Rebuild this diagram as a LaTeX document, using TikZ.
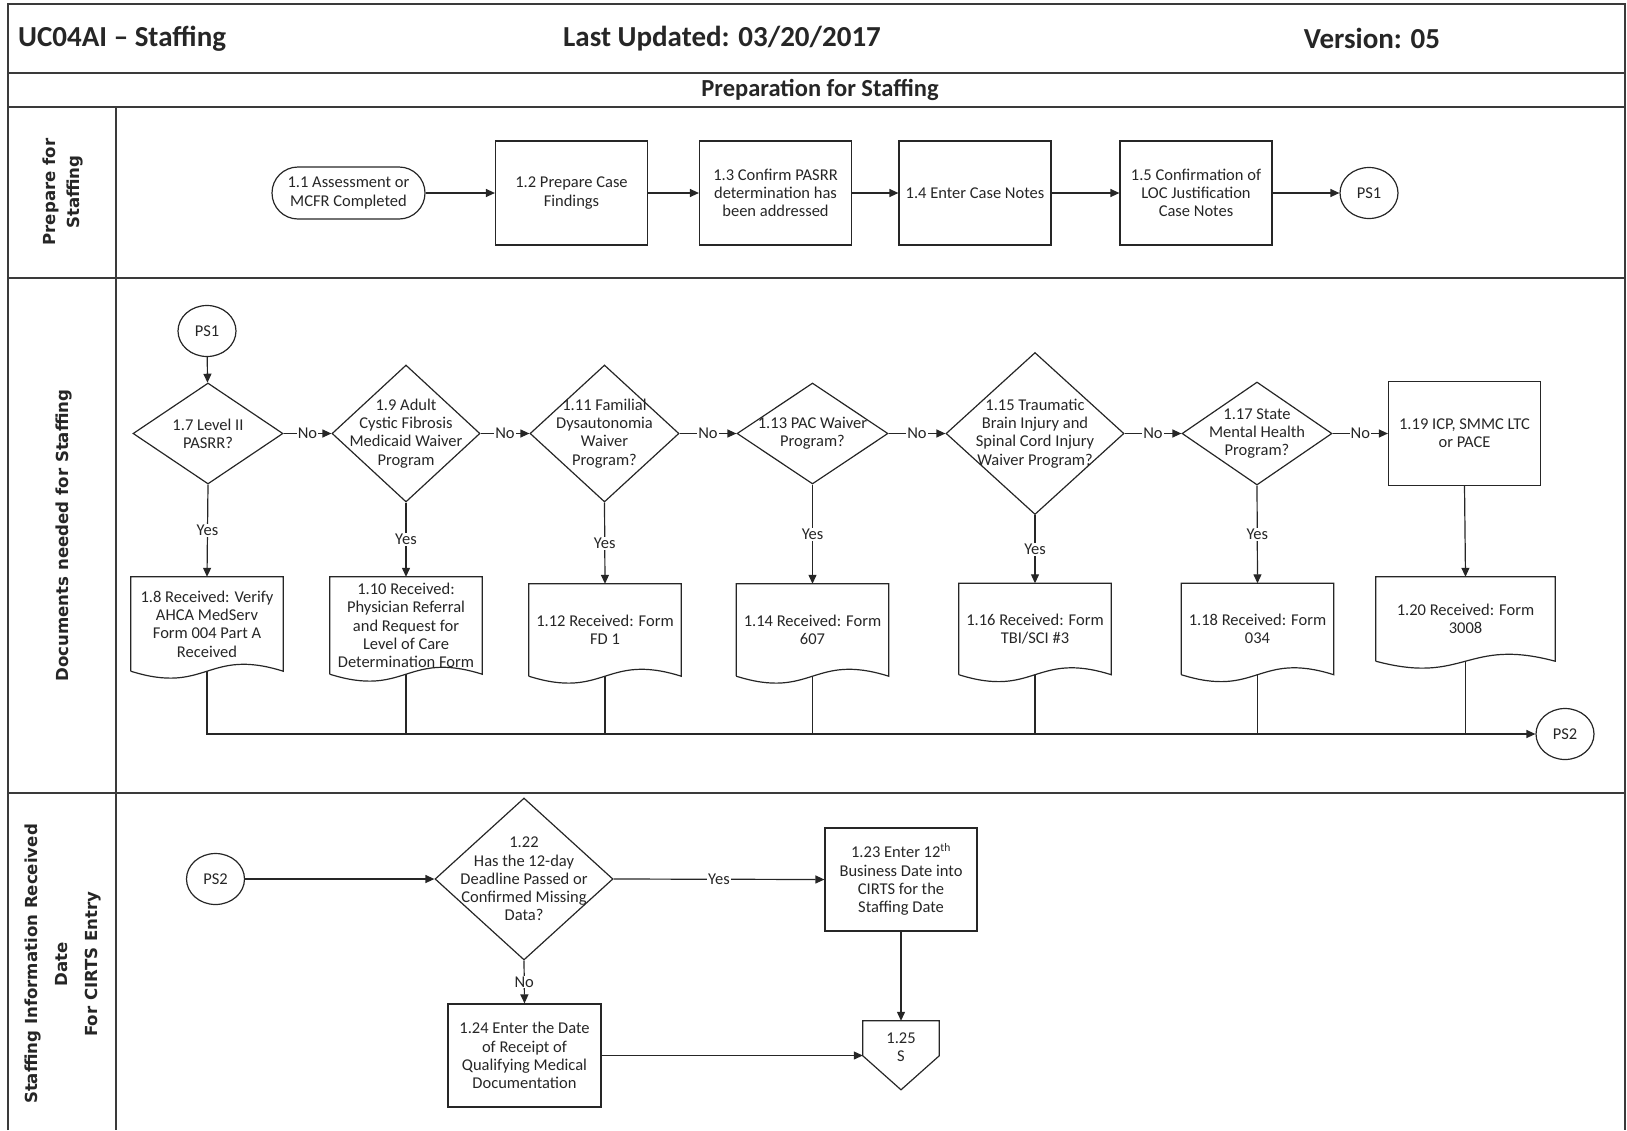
\documentclass[tikz,border=0pt]{standalone}
\usepackage{fontspec}
\setmainfont{Carlito}
\newfontfamily\lanefont{DejaVu Sans}
\usetikzlibrary{arrows.meta,calc,shapes.geometric,positioning}

\definecolor{ink}{HTML}{262626}
\definecolor{rule}{HTML}{3A3A3A}

\begin{document}
\begin{tikzpicture}[x=1pt,y=-1pt,>={Triangle[length=9pt,width=8pt]},
  every node/.style={text=ink},
  outline/.style={draw=ink,line width=1.2pt},
  boxtext/.style={font=\fontsize{16.5}{18.3}\selectfont,align=center},
  process/.style={outline,boxtext,rectangle,minimum width=152pt,minimum height=104pt,inner sep=2pt},
  terminal/.style={process,minimum width=153pt,minimum height=52pt,rounded corners=26pt},
  docbox/.style={boxtext,rectangle,minimum width=152pt,inner sep=2pt},
  decision/.style={outline,diamond,inner sep=0pt},
  dtext/.style={boxtext},
  ref/.style={outline,ellipse,boxtext,minimum width=58pt,minimum height=51pt,inner sep=0pt},
  flow/.style={->,draw=ink,line width=1.2pt},
  plain/.style={draw=ink,line width=1.2pt},
  answer/.style={boxtext,fill=white,inner sep=1pt},
  lanelabel/.style={rotate=90,align=center,font=\lanefont\bfseries\fontsize{16.6}{24}\selectfont},
  frame/.style={draw=rule,line width=2pt},
  heading/.style={inner sep=0pt,font=\bfseries\fontsize{29}{34}\selectfont}]
  \useasboundingbox (0,0) rectangle (1627,1130);

  % Frame and swim lanes
  \draw[frame] (8,1130) -- (8,4) -- (1625,4) -- (1625,1130);
  \draw[frame] (8,73) -- (1625,73);
  \draw[frame] (8,107) -- (1625,107);
  \draw[frame] (8,278) -- (1625,278);
  \draw[frame] (8,793) -- (1625,793);
  \draw[frame] (116,107) -- (116,1130);

  % Header
  \node[heading,anchor=west] (ttl) at (18,38.5) {UC04AI – Staffing};
  \node[heading] (upd) at (722,38.5) {Last Updated: 03/20/2017};
  \node[heading] (ver) at (1372,38.5) {Version: 05};
  \node[font=\bfseries\fontsize{24.5}{29}\selectfont] (phase) at (820,90) {Preparation for Staffing};

  % Lane labels
  \node[lanelabel] (lane1) at (62.5,192) {Prepare for\\Staffing};
  \node[lanelabel] (lane2) at (64,535.5) {Documents needed for Staffing};
  \node[lanelabel,font=\lanefont\bfseries\fontsize{16.6}{30}\selectfont] (lane3) at (63,964)
    {Staffing Information Received\\Date\\For CIRTS Entry};

  % Lane 1: prepare for staffing
  \node[terminal] (t11) at (348.5,193) {1.1 Assessment or\\MCFR Completed};
  \node[process] (p12) at (571.5,193) {1.2 Prepare Case\\Findings};
  \node[process] (p13) at (775.5,193) {1.3 Confirm PASRR\\determination has\\been addressed};
  \node[process] (p14) at (975,193) {1.4 Enter Case Notes};
  \node[process] (p15) at (1196,193) {1.5 Confirmation of\\LOC Justification\\Case Notes};
  \node[ref] (ps1out) at (1369,193) {PS1};
  \foreach \a/\b in {t11/p12,p12/p13,p13/p14,p14/p15,p15/ps1out}
    \draw[flow] (\a) -- (\b);

  % Lane 2: documents needed
  \node[ref] (ps1in) at (207,331) {PS1};
  \node[decision,minimum width=150pt,minimum height=101pt,
    label={[dtext]center:1.7 Level II\\PASRR?}] (q17) at (208,433.5) {};
  \node[decision,minimum width=148pt,minimum height=137pt,
    label={[dtext]center:1.9 Adult\\Cystic Fibrosis\\Medicaid Waiver\\Program}] (q19) at (406,433.5) {};
  \node[decision,minimum width=149pt,minimum height=137pt,
    label={[dtext]center:1.11 Familial\\Dysautonomia\\Waiver\\Program?}] (q111) at (604.5,433.5) {};
  \node[decision,minimum width=151pt,minimum height=101pt,
    label={[dtext]center:1.13 PAC Waiver\\Program?}] (q113) at (812.5,433.5) {};
  \node[decision,minimum width=178pt,minimum height=162pt,
    label={[dtext]center:1.15 Traumatic\\Brain Injury and\\Spinal Cord Injury\\Waiver Program?}] (q115) at (1035,433.5) {};
  \node[decision,minimum width=150pt,minimum height=103pt,
    label={[dtext]center:1.17 State\\Mental Health\\Program?}] (q117) at (1257,433.5) {};
  \node[process] (p119) at (1464.5,433.5) {1.19 ICP, SMMC LTC\\or PACE};

  \node[docbox,minimum height=94pt] (f18) at (207,624) {1.8 Received: Verify\\AHCA MedServ\\Form 004 Part A\\Received};
  \node[docbox,minimum height=97pt] (f110) at (406,625.5) {1.10 Received:\\Physician Referral\\and Request for\\Level of Care\\Determination Form};
  \node[docbox,minimum height=92pt] (f112) at (605,630) {1.12 Received: Form\\FD 1};
  \node[docbox,minimum height=92pt] (f114) at (812.5,630) {1.14 Received: Form\\607};
  \node[docbox,minimum height=91pt] (f116) at (1035,629) {1.16 Received: Form\\TBI/SCI \#3};
  \node[docbox,minimum height=91pt] (f118) at (1257.5,629) {1.18 Received: Form\\034};
  \node[docbox,minimum width=179pt,minimum height=84pt] (f120) at (1465.5,619) {1.20 Received: Form\\3008};
  \foreach \f in {f18,f110,f112,f114,f116,f118,f120}
    \draw[outline] (\f.south west) -- (\f.north west) -- (\f.north east) -- (\f.south east)
      .. controls ($(\f.south)+(0,-24)$) and ($(\f.south)+(0,24)$) .. (\f.south west);
  \node[ref] (ps2out) at (1565,734) {PS2};

  \draw[flow] (ps1in) -- (q17);
  \draw[flow] (q17.east) -- node[answer] (no17) {No} (q19.west);
  \draw[flow] (q19.east) -- node[answer] (no19) {No} (q111.west);
  \draw[flow] (q111.east) -- node[answer] (no111) {No} (q113.west);
  \draw[flow] (q113.east) -- node[answer] (no113) {No} (q115.west);
  \draw[flow] (q115.east) -- node[answer] (no115) {No} (q117.west);
  \draw[flow] (q117.east) -- node[answer] (no117) {No} (p119.west);
  \draw[flow] (q17.south) -- node[answer] (yes17) {Yes} (f18.north);
  \draw[flow] (q19.south) -- node[answer] (yes19) {Yes} (f110.north);
  \draw[flow] (q111.south) -- node[answer] (yes111) {Yes} (f112.north);
  \draw[flow] (q113.south) -- node[answer] (yes113) {Yes} (f114.north);
  \draw[flow] (q115.south) -- node[answer] (yes115) {Yes} (f116.north);
  \draw[flow] (q117.south) -- node[answer] (yes117) {Yes} (f118.north);
  \draw[flow] (p119.south) -- (f120.north);

  % collect all received documents into PS2
  \draw[flow] (f18.south) |- (ps2out.west);
  \foreach \f in {f110,f112,f114,f116,f118,f120}
    \draw[plain] (\f.south) -- (\f.south |- ps2out.west);

  % Lane 3: received date for CIRTS
  \node[ref] (ps2in) at (215.5,879) {PS2};
  \node[decision,minimum width=178pt,minimum height=162pt,
    label={[dtext]center:1.22\\Has the 12-day\\Deadline Passed or\\Confirmed Missing\\Data?}] (q122) at (524,879) {};
  \node[process,minimum height=103pt] (p123) at (901,879.5) {1.23 Enter 12\textsuperscript{th}\\Business Date into\\CIRTS for the\\Staffing Date};
  \node[process,minimum width=153pt,minimum height=103pt] (p124) at (524.5,1055.5) {1.24 Enter the Date\\of Receipt of\\Qualifying Medical\\Documentation};
  \node[boxtext,minimum width=76pt,minimum height=52pt,inner sep=0pt] (s125) at (901,1047) {1.25\\S};
  \draw[outline] (s125.north west) -- (s125.north east) -- ($(s125.north east)+(0,35)$)
    -- ($(s125.north)+(0,69)$) -- ($(s125.north west)+(0,35)$) -- cycle;

  \draw[flow] (ps2in) -- (q122);
  \draw[flow] (q122.east) -- node[answer] (yes122) {Yes} (p123.west);
  \draw[flow] (q122.south) -- node[answer] (no122) {No} (p124.north);
  \draw[flow] (p123.south) -- (s125.north);
  \draw[flow] (p124.east) -- (p124.east -| s125.west);
\end{tikzpicture}
\end{document}
